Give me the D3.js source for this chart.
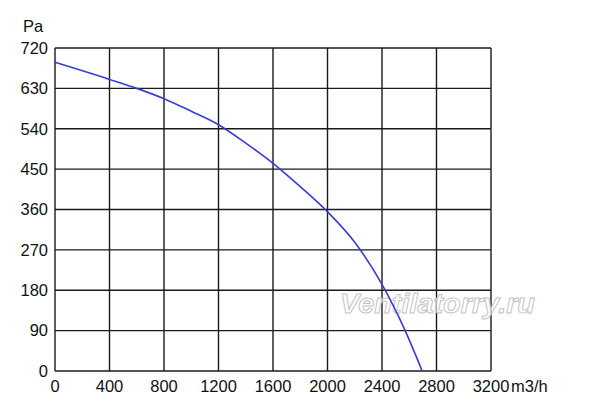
<!DOCTYPE html>
<html>
<head>
<meta charset="utf-8">
<script src="https://cdn.jsdelivr.net/npm/d3@7"></script>
<style>
  body { margin: 0; background: #fff; }
  text { font-family: "Liberation Sans", Arial, sans-serif; fill: #111; }
</style>
</head>
<body>
<div id="vis"></div>
<script>
// fan curve: pressure vs flow

const flowTicks = [0, 400, 800, 1200, 1600, 2000, 2400, 2800, 3200]
const paTicks = [0, 90, 180, 270, 360, 450, 540, 630, 720]

const flow = [0, 400, 600, 800, 1000, 1200, 1400, 1600, 1800, 2000, 2200, 2400, 2570, 2695]
const pressure = [688, 650, 630, 607, 579, 549, 508, 463, 411, 355, 287, 193, 90, 0]

;(function() {
  const svg_width = 600,
        svg_height = 412,
        margin = { left: 55, top: 48, right: 109, bottom: 41 },
        w = svg_width - margin.left - margin.right,
        h = svg_height - margin.top - margin.bottom,
        fs = 16.5

  const svg = d3.select('#vis').append('svg')
    .attr('width', svg_width)
    .attr('height', svg_height)

  const x = d3.scaleLinear().domain([0, 3200]).range([margin.left, margin.left + w])
  const y = d3.scaleLinear().domain([0, 720]).range([margin.top + h, margin.top])

  // grid
  const grid = svg.append('g').attr('class', 'grid')
  grid.selectAll('line.v').data(flowTicks).join('line')
    .attr('class', 'v')
    .attr('x1', d => x(d)).attr('x2', d => x(d))
    .attr('y1', y(0)).attr('y2', y(720))
    .attr('stroke', '#1a1a1a').attr('stroke-width', 1.4)
  grid.selectAll('line.h').data(paTicks).join('line')
    .attr('class', 'h')
    .attr('x1', x(0)).attr('x2', x(3200))
    .attr('y1', d => y(d)).attr('y2', d => y(d))
    .attr('stroke', '#1a1a1a').attr('stroke-width', 1.4)

  // tick labels
  svg.append('g').selectAll('text').data(paTicks).join('text')
    .attr('x', margin.left - 7)
    .attr('y', d => y(d) + 5.8)
    .attr('text-anchor', 'end')
    .attr('font-size', fs)
    .text(d => d)

  svg.append('g').selectAll('text').data(flowTicks).join('text')
    .attr('x', d => x(d))
    .attr('y', y(0) + 21)
    .attr('text-anchor', 'middle')
    .attr('font-size', fs)
    .text(d => d)

  svg.append('text')
    .attr('x', 23).attr('y', 32)
    .attr('font-size', fs)
    .text('Pa')

  svg.append('text')
    .attr('x', x(3200) + 20).attr('y', y(0) + 21)
    .attr('font-size', fs)
    .text('m3/h')

  // watermark
  svg.append('text')
    .attr('x', 340).attr('y', 313)
    .attr('font-size', 28)
    .attr('font-style', 'italic')
    .attr('font-weight', 'bold')
    .attr('textLength', 195)
    .attr('lengthAdjust', 'spacingAndGlyphs')
    .style('fill', 'rgba(255,255,255,0.65)')
    .attr('stroke', '#c4c4c4')
    .attr('stroke-width', 1)
    .text('Ventilatorry.ru')

  // curve
  const line = d3.line()
    .x((d, i) => x(flow[i]))
    .y(d => y(d))
    .curve(d3.curveMonotoneX)

  svg.append('path')
    .datum(pressure)
    .attr('d', line)
    .attr('fill', 'none')
    .attr('stroke', '#3b3bd4')
    .attr('stroke-width', 1.6)
}())
</script>
</body>
</html>
